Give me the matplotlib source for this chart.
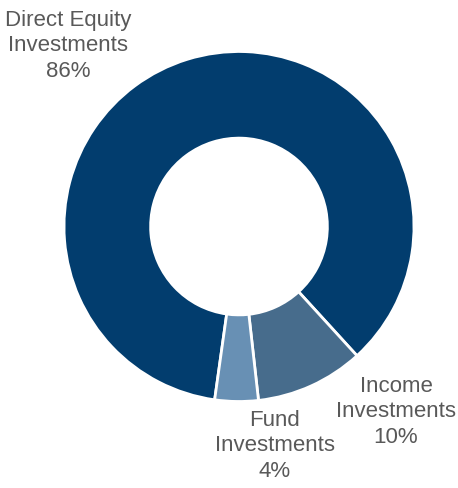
import matplotlib.pyplot as plt

categories = ['Direct Equity\nInvestments', 'Income\nInvestments', 'Fund\nInvestments']
shares = [86, 10, 4]
colors = ['#023d6e', '#476c8c', '#6890b4']

plt.rcParams['font.family'] = ['Liberation Sans', 'DejaVu Sans']

W, H = 458, 489
fig = plt.figure(figsize=(W / 100, H / 100), dpi=100)
ax = fig.add_axes([0, 0, 1, 1])

cx, cy, r = 239, H - 227.5, 175
ax.pie(shares, colors=colors, startangle=-98, counterclock=False,
       center=(cx, cy), radius=r,
       wedgeprops=dict(width=r * 0.495, edgecolor='white', linewidth=2))
ax.set_xlim(0, W)
ax.set_ylim(0, H)
ax.set_aspect('equal')
ax.axis('off')

# label positions (pixel coords, top-left origin)
label_pos = [(68, 46), (396, 412), (275, 446)]
for name, val, (x, y) in zip(categories, shares, label_pos):
    ax.text(x, H - y, f'{name}\n{val}%', ha='center', va='center',
            fontsize=16, color='#595959', linespacing=1.28)

fig.savefig('out.png', dpi=100)
